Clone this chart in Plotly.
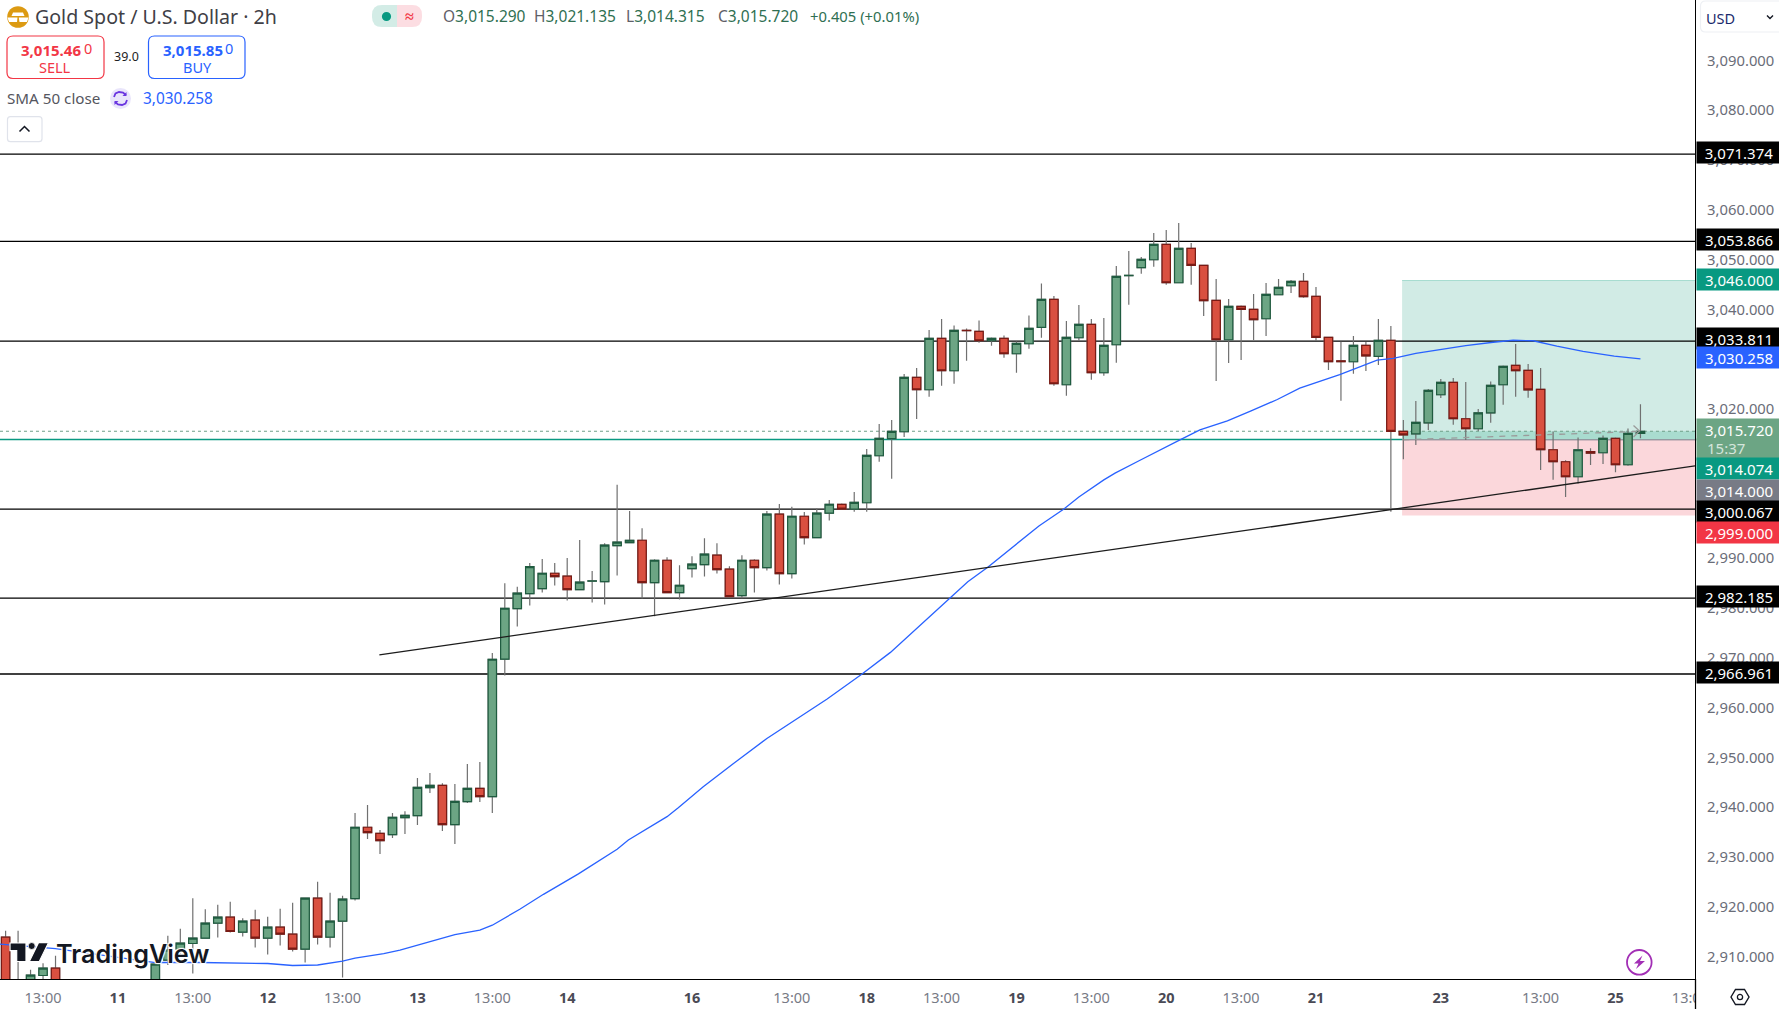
#!/usr/bin/env python3
"""Gold Spot / U.S. Dollar 2h candles with SMA 50, levels and a long position box."""

import plotly.graph_objects as go

# ── data ──────────────────────────────────────────────────────────────────────

opens = [
    2914.09, 2903.0, 2904.5, 2906.39, 2907.87, 2904.2, 2902.6, 2901.4, 2900.1, 2899.7, 2900.8, 2902.3,
    2903.5, 2909.5, 2911.7, 2912.82, 2913.89, 2916.91, 2918.11, 2915.10, 2917.51, 2913.89, 2916.10, 2914.70,
    2911.68, 2921.93, 2914.09, 2917.31, 2921.84, 2936.17, 2934.96, 2934.69, 2938.11, 2938.51, 2944.14, 2944.60,
    2936.70, 2941.32, 2944.0, 2942.33, 2969.93, 2980.10, 2983.12, 2984.12, 2987.20, 2986.60, 2983.92, 2985.60,
    2985.53, 2992.76, 2993.36, 2993.83, 2985.33, 2989.81, 2983.32, 2988.14, 2988.94, 2990.82, 2988.01, 2982.72,
    2989.81, 2988.34, 2999.06, 2987.14, 2998.65, 2994.37, 2999.26, 3001.02, 3000.09, 3001.36, 3010.80, 3014.22,
    3015.62, 3026.54, 3024.06, 3034.37, 3027.87, 3036.0, 3035.78, 3033.90, 3034.37, 3031.29, 3033.30, 3036.58,
    3042.20, 3025.06, 3034.50, 3037.18, 3027.47, 3033.10, 3047.0, 3048.57, 3050.17, 3053.25, 3045.55, 3052.45,
    3049.03, 3042.0, 3034.10, 3040.80, 3040.20, 3038.32, 3043.14, 3044.95, 3045.82, 3042.81, 3034.57, 3029.85,
    3029.68, 3032.96, 3030.75, 3033.96, 3015.68, 3015.21, 3017.42, 3023.05, 3025.53, 3018.23, 3016.22, 3019.43,
    3025.06, 3028.94, 3027.94, 3024.12, 3012.0, 3009.59, 3006.58, 3011.63, 3011.40, 3014.28, 3008.99, 3015.29,
]
highs = [
    2915.37, 2915.37, 2907.53, 2908.87, 2910.34, 2904.8, 2903.4, 2902.6, 2901.2, 2901.1, 2902.5, 2903.9,
    2909.2, 2914.36, 2915.77, 2921.93, 2919.72, 2920.59, 2921.19, 2917.91, 2919.58, 2918.18, 2919.79, 2920.99,
    2921.93, 2925.21, 2923.0, 2922.40, 2939.05, 2940.65, 2935.63, 2939.05, 2939.38, 2946.08, 2947.08, 2945.01,
    2944.87, 2948.89, 2949.29, 2971.19, 2985.19, 2984.46, 2989.28, 2990.08, 2989.28, 2990.28, 2993.90, 2987.67,
    2993.23, 3004.95, 2999.72, 2996.24, 2990.02, 2990.42, 2988.81, 2990.62, 2994.23, 2993.23, 2988.61, 2990.82,
    2990.02, 2999.72, 3001.13, 3000.53, 2999.52, 3000.26, 3001.93, 3001.2, 3003.50, 3012.14, 3017.16, 3017.97,
    3027.21, 3028.41, 3036.04, 3038.25, 3036.98, 3036.38, 3037.99, 3034.57, 3034.97, 3033.77, 3038.99, 3045.42,
    3042.87, 3037.85, 3041.07, 3038.25, 3038.45, 3048.90, 3051.91, 3050.71, 3055.53, 3056.13, 3057.54, 3053.52,
    3049.03, 3046.29, 3042.27, 3041.0, 3043.28, 3045.49, 3046.29, 3046.09, 3047.49, 3044.68, 3034.57, 3033.7,
    3034.83, 3033.63, 3038.25, 3036.84, 3017.96, 3021.78, 3024.19, 3026.2, 3026.40, 3025.59, 3020.17, 3025.73,
    3028.94, 3033.23, 3029.21, 3028.41, 3015.68, 3009.92, 3014.48, 3012.33, 3014.88, 3014.48, 3016.28, 3021.135,
]
lows = [
    2901.5, 2899.5, 2904.0, 2904.0, 2903.0, 2901.9, 2900.4, 2899.3, 2898.2, 2898.4, 2899.6, 2901.1,
    2902.0, 2908.5, 2910.7, 2906.79, 2913.89, 2914.03, 2915.03, 2914.23, 2912.02, 2910.61, 2912.42, 2911.21,
    2909.00, 2912.62, 2912.02, 2905.99, 2921.44, 2933.82, 2930.81, 2934.03, 2934.83, 2936.64, 2943.07, 2935.43,
    2932.82, 2941.05, 2941.26, 2939.05, 2966.65, 2976.49, 2980.71, 2983.32, 2984.73, 2981.71, 2983.92, 2981.31,
    2980.91, 2986.73, 2993.36, 2982.11, 2978.57, 2983.32, 2981.91, 2986.33, 2986.53, 2987.14, 2982.52, 2982.18,
    2983.32, 2987.74, 2984.93, 2986.13, 2992.96, 2994.37, 2997.78, 2999.9, 2999.55, 2999.55, 3009.59, 3006.18,
    3014.55, 3018.17, 3022.65, 3024.86, 3025.26, 3029.88, 3033.50, 3032.90, 3030.49, 3027.47, 3032.29, 3034.50,
    3024.86, 3022.85, 3033.90, 3026.07, 3026.87, 3029.48, 3041.13, 3047.36, 3048.77, 3045.15, 3045.55, 3045.15,
    3038.86, 3025.80, 3029.42, 3030.02, 3034.04, 3034.84, 3043.14, 3043.48, 3042.54, 3033.90, 3028.01, 3021.84,
    3027.27, 3027.80, 3029.01, 2999.54, 3010.12, 3012.94, 3015.95, 3022.38, 3017.02, 3013.94, 3015.75, 3017.42,
    3021.04, 3022.65, 3022.45, 3007.92, 3005.97, 3002.49, 3005.24, 3008.92, 3009.12, 3007.51, 3008.78, 3014.315,
]
closes = [
    2903.0, 2902.0, 2906.46, 2907.87, 2904.5, 2902.6, 2901.4, 2900.1, 2899.7, 2900.8, 2902.3, 2903.5,
    2908.67, 2911.5, 2912.89, 2913.89, 2916.91, 2918.11, 2915.23, 2917.31, 2913.89, 2916.10, 2914.70, 2911.68,
    2921.93, 2914.09, 2917.31, 2921.73, 2936.17, 2935.10, 2933.49, 2938.18, 2938.58, 2944.20, 2944.60, 2936.70,
    2941.39, 2944.0, 2942.33, 2969.92, 2980.17, 2983.19, 2988.54, 2987.20, 2986.53, 2983.92, 2985.40, 2985.65,
    2992.83, 2993.43, 2993.83, 2985.33, 2989.81, 2983.32, 2984.79, 2989.01, 2991.02, 2987.94, 2982.52, 2989.81,
    2988.34, 2999.06, 2987.14, 2998.65, 2994.37, 2999.26, 3001.06, 3000.09, 3001.42, 3010.87, 3014.28, 3015.69,
    3026.54, 3024.06, 3034.37, 3027.87, 3035.98, 3035.95, 3033.90, 3034.37, 3031.29, 3033.37, 3036.38, 3042.20,
    3025.26, 3034.57, 3037.18, 3027.47, 3032.96, 3046.82, 3047.05, 3050.24, 3053.25, 3045.55, 3052.45, 3049.03,
    3041.94, 3034.10, 3040.80, 3040.20, 3038.12, 3043.21, 3044.61, 3045.82, 3042.74, 3034.57, 3029.68, 3029.70,
    3032.96, 3030.88, 3033.96, 3015.68, 3015.01, 3017.49, 3023.92, 3025.53, 3018.23, 3016.22, 3019.43, 3024.92,
    3028.74, 3027.87, 3024.05, 3012.0, 3009.59, 3006.58, 3012.0, 3011.33, 3014.28, 3008.99, 3015.28, 3015.72,
]
bar_idx = list(range(len(opens)))

sma_idx = [-0.45, 4, 12, 15.6, 21, 23, 25, 27, 28, 30.3, 31.6, 33.7, 36, 38, 39, 41.2, 43.1, 45.9, 49, 49.9, 53,
           53.9, 55.9, 58.7, 61, 65.8, 68.6, 70.9, 73.3, 75.7, 77.1, 78.75, 80.6, 82.8, 84.8, 86, 88, 88.9, 90.9,
           92.8, 94.1, 95.7, 97.9, 99.8, 101.9, 103.7, 105, 106.9, 109.9, 111.2, 113, 115, 117, 119.2, 120.8,
           122.4, 124.3, 126.4, 128.9, 131]
sma_val = [2912.7, 2911.8, 2909.0, 2909.0, 2908.8, 2908.4, 2908.5, 2909.3, 2909.9, 2910.8, 2911.5, 2913.0, 2914.6,
           2915.5, 2916.5, 2919.7, 2922.7, 2926.8, 2931.75, 2933.6, 2938.3, 2940.1, 2944.3, 2949.7, 2954.0, 2961.9,
           2966.9, 2971.3, 2976.8, 2982.3, 2985.5, 2988.5, 2992.2, 2996.7, 3000.1, 3002.5, 3005.95, 3007.3, 3009.9,
           3012.4, 3014.0, 3016.0, 3017.8, 3019.8, 3022.1, 3024.4, 3025.5, 3027.1, 3030.0, 3030.35, 3031.35,
           3032.2, 3032.9, 3033.6, 3034.0, 3033.9, 3032.8, 3031.75, 3030.8, 3030.258]

level_prices = [3071.374, 3053.866, 3033.811, 3000.067, 2982.185, 2966.961]
trend_idx = [29.95, 135.37]
trend_val = [2970.8, 3008.75]
pos_start = 111.9
pos_target = 3046.0
pos_entry = 3014.074
pos_stop = 2998.8
pos_avg = 3014.0
last_price = 3015.72
pos_path_idx = [112, 131]
pos_path_val = [3014.0, 3015.7]

y_ticks = list(range(2910, 3100, 10))
x_tick_idx = [3, 9, 15, 21, 27, 33, 39, 45, 55, 63, 69, 75, 81, 87, 93, 99, 105, 115, 123, 129, 135]
x_tick_txt = ["13:00", "11", "13:00", "12", "13:00", "13", "13:00", "14", "16", "13:00", "18", "13:00",
              "19", "13:00", "20", "13:00", "21", "23", "13:00", "25", "13:00"]

# ── styles ────────────────────────────────────────────────────────────────────

W, H = 1779, 1009
PW, PH = 1695, 979
FONT = "Noto Sans"
GREEN, GREEN_DK = "#6ca584", "#1f5c40"
RED, RED_DK = "#d95040", "#7a1a14"
TEAL, BLUE, SELL = "#089981", "#2962ff", "#f23645"
GREY_TXT = "#6a6d78"
OHLC_GREEN = "#2f6f52"


def X(px):
    return px / PW


def Y(py):
    return 1 - py / PH


shapes = []
notes = []


def poly(points, fill="rgba(0,0,0,0)", line=None, width=1.2, close=True):
    path = "M " + " L ".join(f"{X(a):.5f} {Y(b):.5f}" for a, b in points) + (" Z" if close else "")
    shapes.append(dict(type="path", path=path, xref="paper", yref="paper", fillcolor=fill,
                       line=dict(color=line or "rgba(0,0,0,0)", width=width), layer="above"))


def circle(cx, cy, r, fill="rgba(0,0,0,0)", line=None, width=1.2):
    shapes.append(dict(type="circle", xref="paper", yref="paper", x0=X(cx - r), x1=X(cx + r), y0=Y(cy + r),
                       y1=Y(cy - r), fillcolor=fill, line=dict(color=line or "rgba(0,0,0,0)", width=width),
                       layer="above"))


def rrect(x0, y0, x1, y1, r, fill="white", line=None, width=1.2, corners="all"):
    # rounded box in screen pixels, curves through Q so it works in paper coords
    tl = r if corners in ("all", "left") else 0
    bl = tl
    tr = r if corners in ("all", "right") else 0
    br = tr
    p = (f"M {X(x0 + tl):.5f} {Y(y0):.5f} L {X(x1 - tr):.5f} {Y(y0):.5f} "
         f"Q {X(x1):.5f} {Y(y0):.5f} {X(x1):.5f} {Y(y0 + tr):.5f} L {X(x1):.5f} {Y(y1 - br):.5f} "
         f"Q {X(x1):.5f} {Y(y1):.5f} {X(x1 - br):.5f} {Y(y1):.5f} L {X(x0 + bl):.5f} {Y(y1):.5f} "
         f"Q {X(x0):.5f} {Y(y1):.5f} {X(x0):.5f} {Y(y1 - bl):.5f} L {X(x0):.5f} {Y(y0 + tl):.5f} "
         f"Q {X(x0):.5f} {Y(y0):.5f} {X(x0 + tl):.5f} {Y(y0):.5f} Z")
    shapes.append(dict(type="path", path=p, xref="paper", yref="paper", fillcolor=fill,
                       line=dict(color=line or "rgba(0,0,0,0)", width=width), layer="above"))


def text(px, py, s, size=14.5, color="#4a4a55", anchor="left", family=FONT, **kw):
    notes.append(dict(x=X(px), y=Y(py), xref="paper", yref="paper", text=s, showarrow=False, xanchor=anchor,
                      yanchor="middle", borderpad=0, font=dict(family=family, size=size, color=color, **kw)))


def hline(price, x0, x1, color="black", width=1.3, dash="solid", xref="x"):
    shapes.append(dict(type="line", xref=xref, yref="y", x0=x0, x1=x1, y0=price, y1=price, layer="below",
                       line=dict(color=color, width=width, dash=dash)))


# position box, below the candles
for lo, hi, fill in [(pos_entry, pos_target, "#d1ebe5"), (pos_stop, pos_entry, "#fbd7db"),
                     (pos_entry, last_price, "#a9dccf")]:
    shapes.append(dict(type="rect", xref="x", yref="y", x0=pos_start, x1=135.37, y0=lo, y1=hi, fillcolor=fill,
                       line=dict(width=0), layer="below"))
hline(pos_target, pos_start, 135.37, color="#a6dcd0", width=1)
hline(pos_avg, pos_start, 135.37, color="#787b86", width=1)
hline(pos_entry, -0.45, pos_start, color=TEAL, width=1.4)
hline(last_price, -0.45, 135.37, color="#6f9f88", width=1, dash="dot")
for lvl in level_prices:
    hline(lvl, -0.45, 135.37)

# price scale tags: price, colour, nudge in px when tags would collide
tag_prices = [3071.374, 3053.866, 3046.0, 3033.811, 3030.258, 3015.72, 3014.074, 3014.0, 3000.067, 2999.0,
              2982.185, 2966.961]
tag_colors = ["#000000", "#000000", TEAL, "#000000", BLUE, GREEN, TEAL, "#787b86", "#000000", SELL, "#000000",
              "#000000"]
tag_shift = [1.5, 1.5, 1.5, 3, 1.5, 1.5, -29.5, -50.5, -2.5, -18.5, 1.5, 1.5]
# box of the countdown sits first so the price tags draw over it
notes.append(dict(x=1, y=last_price, xref="paper", yref="y", xanchor="left", yanchor="middle", yshift=-18, xshift=1,
                  text=" ", showarrow=False, width=84, height=21, bgcolor=GREEN, borderpad=0))
for price, col, sh in zip(tag_prices, tag_colors, tag_shift):
    notes.append(dict(x=1, y=price, xref="paper", yref="y", xanchor="left", yanchor="middle", yshift=sh, xshift=1,
                      text=f"{price:,.3f}", showarrow=False, width=84, height=21, bgcolor=col, borderpad=0,
                      align="center", font=dict(family=FONT, size=15, color="white")))
text(1706, 448, "15:37", size=15, color="#d5e6dc")

# header
circle(18, 17, 10.8, fill="#dc9a12")
for pts in ([(13, 12.5), (23, 12.5), (24.5, 16), (11.5, 16)], [(7.5, 17.5), (17.5, 17.5), (17, 22), (9, 22)],
            [(18.8, 17.5), (28.5, 17.5), (27, 22), (19.5, 22)]):
    poly(pts, fill="white")
text(34, 16.5, "Gold Spot / U.S. Dollar · 2h", size=19.6, color="#3f4046")
rrect(372, 5, 397, 27, 10, fill="#d3ece6", corners="left")
rrect(397, 5, 422, 27, 10, fill="#fcdde2", corners="right")
circle(386.5, 16.5, 4.6, fill=TEAL)
text(409.5, 16, "<b>≈</b>", size=16, color=SELL, anchor="center")

ohlc_lbl = ["O", "H", "L", "C"]
ohlc_val = ["3,015.290", "3,021.135", "3,014.315", "3,015.720"]
ohlc_x = [442, 533, 625, 717]
for lbl, val, px in zip(ohlc_lbl, ohlc_val, ohlc_x):
    text(px, 16, f'<span style="color:#5f6068">{lbl}</span><span style="color:{OHLC_GREEN}">{val}</span>', size=15.5)
text(809, 16, "+0.405 (+0.01%)", size=14.8, color=OHLC_GREEN)

rrect(7, 36, 104, 78.5, 6, line=SELL)
text(19.5, 50, "<b>3,015.46</b>", size=15, color=SELL)
text(83, 48.5, "0", size=14.5, color=SELL)
text(55, 67, "SELL", size=14.5, color=SELL, anchor="center")
text(126, 57, "39.0", size=12.5, color="#1e1e24", anchor="center")
rrect(148.5, 36, 245, 78.5, 6, line=BLUE)
text(161.5, 50, "<b>3,015.85</b>", size=15, color=BLUE)
text(224, 48.5, "0", size=14.5, color=BLUE)
text(197, 67, "BUY", size=14.5, color=BLUE, anchor="center")

text(6, 98.5, "SMA 50 close", size=15.2, color="#55565e")
circle(120.5, 98.5, 10.5, fill="#e9e5fb")
for pts in ([(114, 97), (115.5, 93.5), (119, 92), (123, 92.5), (126, 95)],
            [(127, 100), (125.5, 103.5), (122, 105), (118, 104.5), (115, 102)]):
    poly(pts, line="#6a35e0", width=1.8, close=False)
poly([(126.5, 92), (126.5, 96), (122.5, 96)], fill="#6a35e0")
poly([(114.5, 105), (114.5, 101), (118.5, 101)], fill="#6a35e0")
text(142, 98.5, "3,030.258", size=15.4, color=BLUE)
rrect(7.5, 116.7, 42, 141.7, 3, line="#e0e3eb")
poly([(19.5, 131.5), (24.5, 126.5), (29.5, 131.5)], line="#131722", width=1.5, close=False)

rrect(1700.5, 1, 1790, 32, 5, line="#eef0f4")
text(1705, 18, "USD", size=14.5, color="#1a2a6c")
poly([(1767, 15.5), (1770, 18.5), (1773, 15.5)], line="#131722", width=1.4, close=False)

# watermark
poly([(10, 943), (26, 943), (26, 961.5), (16.7, 961.5), (16.7, 950.7), (10, 950.7)], fill="#131722", line="white")
circle(31.7, 946, 3.5, fill="#131722", line="white", width=0.8)
poly([(38.5, 942.7), (48.5, 942.7), (39.3, 961.5), (29.3, 961.5)], fill="#131722", line="white")
text(54.5, 953.5, "TradingView", size=25.2, color="#131722", family="Inter", weight=600,
     shadow="1px 1px 1px white, -1px -1px 1px white, 1px -1px 1px white, -1px 1px 1px white")

# lightning and settings icons
circle(1639.3, 962.3, 12.3, fill="white", line="#a22fb5", width=1.8)
poly([(1642.5, 955.5), (1634, 963.5), (1638.5, 963.5), (1636, 969), (1645, 961), (1640, 961)], fill="#a22fb5")
# white mask so the last time label stops at the scale border
shapes.append(dict(type="rect", xref="paper", yref="paper", x0=X(1695.8), x1=X(1779), y0=Y(1009), y1=Y(980),
                   fillcolor="white", line=dict(width=0), layer="above"))
poly([(1731, 997), (1735.5, 989.5), (1744.5, 989.5), (1749, 997), (1744.5, 1004.5), (1735.5, 1004.5)],
     line="#131722", width=1.4)
circle(1740, 997, 2.6, line="#131722", width=1.3)
# scale border drawn last, above the mask
shapes.append(dict(type="line", xref="paper", yref="paper", x0=X(1695.5), x1=X(1695.5), y0=Y(1009), y1=Y(979),
                   line=dict(color="black", width=1.3), layer="above"))
# arrow head on the position path
poly([(1633.5, 425.5), (1639.5, 431), (1633.5, 437)], line="#9b9b9b", width=1.3, close=False)

# ── figure ────────────────────────────────────────────────────────────────────

fig = go.Figure()

# wicks in grey, bodies redrawn on top with their dark outline
fig.add_trace(go.Candlestick(
    x=bar_idx, open=opens, high=highs, low=lows, close=closes, name="wicks", hoverinfo="skip",
    increasing=dict(line=dict(color="#707070", width=1.2), fillcolor=GREEN),
    decreasing=dict(line=dict(color="#707070", width=1.2), fillcolor=RED),
))
fig.add_trace(go.Candlestick(
    x=bar_idx, open=opens, close=closes, name="XAUUSD", hoverinfo="skip",
    high=[max(o, c) for o, c in zip(opens, closes)], low=[min(o, c) for o, c in zip(opens, closes)],
    increasing=dict(line=dict(color=GREEN_DK, width=1.2), fillcolor=GREEN),
    decreasing=dict(line=dict(color=RED_DK, width=1.2), fillcolor=RED),
))
fig.add_trace(go.Scatter(x=sma_idx, y=sma_val, mode="lines", name="SMA 50", hoverinfo="skip",
                         line=dict(color=BLUE, width=1.3)))
fig.add_trace(go.Scatter(x=trend_idx, y=trend_val, mode="lines", name="trend", hoverinfo="skip",
                         line=dict(color="#1c1c1c", width=1.3)))
fig.add_trace(go.Scatter(x=pos_path_idx, y=pos_path_val, mode="lines", name="path", hoverinfo="skip",
                         line=dict(color="#9b9b9b", width=1.3, dash="6px,6px")))

fig.update_layout(
    width=W,
    height=H,
    margin=dict(l=0, r=W - PW, t=0, b=H - PH),
    paper_bgcolor="white",
    plot_bgcolor="white",
    showlegend=False,
    boxgap=0.33,
    boxgroupgap=0,
    hovermode=False,
    font=dict(family=FONT, size=14.5, color=GREY_TXT),
    shapes=shapes,
    annotations=notes,
    xaxis=dict(
        range=[-0.449, 135.37],
        rangeslider=dict(visible=False),
        tickvals=x_tick_idx,
        ticktext=[f'<span style="color:#777a85">{t}</span>' if ":" in t else f'<b style="color:#4a4a55">{t}</b>'
                  for t in x_tick_txt],
        tickfont=dict(family=FONT, size=14.5),
        tickangle=0,
        ticks="outside",
        ticklen=5.5,
        tickcolor="rgba(0,0,0,0)",
        showgrid=False,
        zeroline=False,
        showline=True,
        linecolor="black",
        linewidth=1.3,
    ),
    yaxis=dict(
        side="right",
        range=[2905.69, 3102.35],
        tickvals=y_ticks,
        ticktext=[f"{t:,.3f}" for t in y_ticks],
        tickfont=dict(family=FONT, size=14.8, color=GREY_TXT),
        ticks="outside",
        ticklen=8,
        tickcolor="rgba(0,0,0,0)",
        ticklabelshift=-1,
        showgrid=False,
        zeroline=False,
        showline=True,
        linecolor="black",
        linewidth=1.3,
    ),
)

fig.write_html("out.html", config=dict(displayModeBar=False),
               post_script="document.body.style.margin='0';document.body.style.overflow='hidden';")
